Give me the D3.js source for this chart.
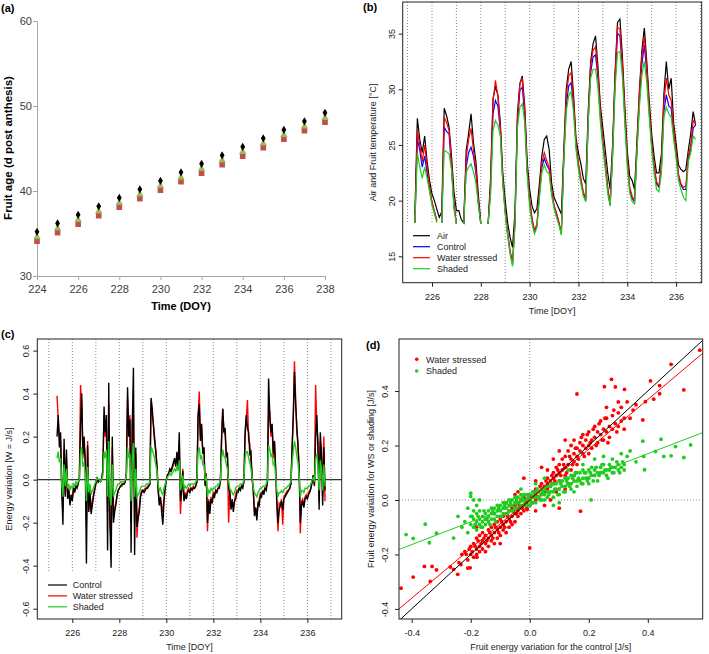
<!DOCTYPE html>
<html>
<head>
<meta charset="utf-8">
<script src="https://d3js.org/d3.v7.min.js"></script>
<style>
body { margin: 0; background: #fff; }
svg { display: block; font-family: "Liberation Sans", Arial, sans-serif; }
</style>
</head>
<body>
<div id="chart"></div>
<script>
//----- (a) fruit age -----
var ageDays = [224, 225, 226, 227, 228, 229, 230, 231, 232, 233, 234, 235, 236, 237, 238];
var ageBlack = [35.2, 36.2, 37.2, 38.2, 39.2, 40.2, 41.2, 42.2, 43.2, 44.2, 45.2, 46.2, 47.2, 48.2, 49.2];
var ageGreen = [34.6, 35.6, 36.6, 37.6, 38.6, 39.6, 40.6, 41.6, 42.6, 43.6, 44.6, 45.6, 46.6, 47.6, 48.6];
var ageRed = [34.1, 35.1, 36.1, 37.1, 38.1, 39.1, 40.1, 41.1, 42.1, 43.1, 44.1, 45.1, 46.1, 47.1, 48.1];
var ageXTicks = [224, 226, 228, 230, 232, 234, 236, 238];
var ageYTicks = [30, 40, 50, 60];

//----- (b) temperatures, sampled every 0.1 d from 225.3 -----
var tempStart = 225.3, tempStep = 0.1;
var tempAir = [
  18.8, 27.4, 25.5, 24.3, 25.8, 23.5, 21.8, 20.6, 20.0, 19.2,
  18.5, 19.0, 28.3, 27.6, 26.6, 24.0, 20.8, 19.1, 19.1, 18.3,
  18.0, 24.5, 26.0, 27.8, 25.2, 23.5, 20.5, 18.0, null, null,
  17.9, 22.0, 29.2, 30.2, 29.5, 27.0, 22.5, 20.0, 18.0, 16.7,
  15.8, 19.0, 27.8, 30.5, 31.2, 28.5, 23.5, 21.0, 19.5, 18.9,
  19.3, 21.5, 24.0, 25.5, 25.8, 24.6, 21.6, 20.3, 19.8, 19.3,
  18.8, 24.5, 30.0, 31.8, 32.5, 29.5, 25.6, 24.3, 23.3, 22.0,
  21.5, 28.0, 32.5, 34.1, 34.8, 32.0, 28.5, 26.5, 24.5, 22.5,
  21.0, 25.0, 31.5, 36.0, 36.3, 33.0, 28.5, 24.5, 22.2, 21.8,
  21.0, 25.5, 30.0, 33.5, 35.5, 32.5, 29.0, 26.0, 24.0, 22.5,
  22.5, 24.2, 29.5, 32.5, 30.0, 31.0, 27.0, 25.2, 23.2, 22.8,
  22.6, 22.8, 24.5, 26.0, 28.0, 26.8];
var tempControl = [
  18.0, 25.6, 24.5, 23.0, 24.0, 22.5, 21.0, 19.8, 19.0, 18.2,
  null, 18.0, 26.6, 26.2, 26.0, 23.0, 19.6, 17.9, null, null,
  17.9, 23.0, 24.3, 24.8, 24.0, 22.5, 19.8, 17.9, null, null,
  17.9, 21.0, 27.8, 29.0, 28.5, 26.3, 21.8, 19.0, 17.0, 15.4,
  14.3, 18.0, 27.0, 29.9, 30.2, 27.6, 22.7, 20.0, 18.3, 17.2,
  17.8, 20.5, 23.0, 23.8, 23.2, 22.8, 20.8, 19.5, 18.8, 18.0,
  17.0, 23.8, 28.5, 30.3, 30.6, 28.6, 25.0, 23.2, 21.8, 20.6,
  20.0, 27.2, 31.5, 32.9, 33.1, 31.0, 27.5, 25.2, 23.2, 21.0,
  19.6, 24.2, 30.6, 35.0, 34.8, 32.0, 27.5, 23.6, 21.0, 20.2,
  19.9, 24.6, 29.0, 32.2, 34.0, 31.5, 28.0, 25.0, 23.0, 21.5,
  21.2, 23.0, 28.0, 29.5, 28.5, 28.3, 26.0, 24.2, 22.2, 21.4,
  21.0, 21.0, 23.8, 24.5, 26.5, 26.8];
var tempStressed = [
  18.0, 26.3, 25.0, 23.5, 25.0, 23.0, 21.2, 19.9, 19.0, 18.2,
  null, 18.0, 27.5, 27.0, 26.3, 23.3, 19.8, 17.9, null, null,
  17.9, 23.8, 25.5, 26.5, 24.5, 22.8, 19.9, 17.9, null, null,
  17.9, 21.5, 28.8, 30.8, 29.4, 26.6, 21.9, 19.1, 17.1, 15.5,
  14.4, 18.1, 27.2, 30.5, 31.0, 28.0, 22.8, 20.1, 18.4, 17.3,
  17.9, 20.8, 23.4, 24.3, 23.6, 23.0, 20.9, 19.6, 18.9, 18.1,
  17.1, 24.0, 29.4, 31.2, 31.5, 29.0, 25.2, 23.4, 22.0, 20.8,
  20.1, 27.5, 32.2, 33.5, 33.8, 31.4, 27.8, 25.4, 23.4, 21.2,
  19.7, 24.5, 31.0, 35.6, 35.4, 32.3, 27.8, 23.8, 21.2, 20.4,
  20.0, 25.0, 29.8, 33.0, 34.8, 32.0, 28.3, 25.2, 23.2, 21.7,
  21.3, 23.3, 28.8, 31.0, 29.5, 29.0, 26.4, 24.4, 22.4, 21.5,
  21.2, 21.3, 24.0, 25.0, 27.2, 26.9];
var tempShaded = [
  18.0, 24.3, 23.0, 22.0, 23.0, 22.0, 20.8, 19.6, 18.8, 18.0,
  null, 18.0, 24.5, 24.4, 24.2, 22.8, 19.2, 17.9, null, null,
  17.9, 22.5, 23.0, 23.3, 22.6, 21.6, 19.6, 17.9, null, null,
  17.9, 20.5, 26.3, 27.2, 26.8, 25.8, 21.5, 18.8, 16.8, 15.2,
  14.1, 17.8, 26.5, 28.4, 28.7, 27.0, 22.3, 19.4, 17.9, 17.0,
  17.6, 20.2, 22.5, 23.2, 22.6, 22.4, 20.5, 19.3, 18.5, 17.8,
  16.9, 23.5, 28.0, 29.4, 29.8, 27.9, 24.6, 22.8, 21.5, 20.4,
  19.9, 27.0, 31.0, 31.8, 31.8, 30.2, 27.0, 24.8, 22.8, 20.6,
  19.5, 24.0, 30.0, 33.3, 33.4, 31.2, 27.0, 23.0, 20.7, 19.9,
  19.7, 24.5, 28.5, 31.3, 32.5, 30.6, 27.5, 24.6, 22.5, 21.0,
  20.8, 22.5, 27.5, 28.4, 27.8, 27.5, 25.5, 23.8, 21.8, 21.0,
  20.3, 20.0, 23.5, 24.3, 25.8, 25.5];
var tempLegend = ["Air", "Control", "Water stressed", "Shaded"];

//----- (c) energy variation, sampled every 0.05 d from 225.35 -----
var energyStart = 225.35, energyStep = 0.05;
var energyControl = [
  0.20, 0.30, 0.15, 0.22, -0.05, -0.21, 0.19, -0.08, 0.14, -0.09, -0.05, -0.12, -0.07, -0.10, -0.04, -0.06, -0.03, -0.04, -0.02, 0.01,
  0.25, 0.40, 0.12, 0.20, 0.08, -0.39, 0.16, -0.15, -0.05, -0.16, -0.12, -0.08, -0.05, -0.02, 0.01, -0.01, 0.00, -0.01, 0.00, 0.05,
  0.34, 0.22, 0.30, -0.33, 0.45, -0.21, -0.41, 0.20, -0.20, -0.15, -0.12, -0.08, -0.05, -0.04, -0.03, -0.03, -0.02, -0.02, -0.01, 0.03,
  0.43, 0.20, 0.28, -0.34, 0.25, 0.52, -0.35, 0.15, -0.22, -0.18, -0.15, -0.08, -0.06, -0.05, -0.06, -0.05, -0.04, -0.04, -0.03, -0.02,
  0.38, 0.33, 0.25, 0.18, 0.13, 0.06, -0.05, -0.12, -0.08, -0.15, -0.21, -0.10, -0.04, 0.00, 0.02, 0.03, 0.05, 0.04, 0.06, 0.08,
  0.10, 0.06, 0.13, 0.05, 0.22, -0.10, -0.06, 0.04, -0.10, -0.07, -0.09, -0.06, -0.05, -0.06, -0.04, -0.05, -0.04, -0.04, -0.03, -0.01,
  0.30, 0.35, 0.18, 0.26, 0.12, 0.15, -0.03, 0.02, -0.20, -0.10, -0.16, -0.09, -0.11, -0.07, -0.08, -0.05, -0.06, -0.04, -0.04, -0.01,
  0.20, 0.33, 0.22, 0.24, 0.11, 0.12, -0.04, -0.06, -0.14, -0.09, -0.15, -0.10, -0.09, -0.06, -0.06, -0.04, -0.05, -0.03, -0.04, -0.01,
  0.22, 0.30, 0.24, 0.22, 0.12, 0.13, 0.00, -0.05, -0.17, -0.13, -0.19, -0.11, -0.12, -0.07, -0.08, -0.05, -0.07, -0.04, -0.05, -0.01,
  0.47, 0.30, 0.22, 0.26, 0.12, 0.18, 0.05, -0.10, -0.20, -0.14, -0.12, -0.10, -0.14, -0.09, -0.08, -0.07, -0.06, -0.05, -0.04, -0.02,
  0.15, 0.30, 0.50, 0.35, 0.25, 0.15, 0.05, -0.20, -0.12, -0.10, -0.13, -0.09, -0.08, -0.09, -0.07, -0.06, -0.04, -0.01, 0.02, -0.03,
  0.20, 0.30, 0.15, -0.14, 0.22, 0.10, -0.12, 0.15, -0.05];
var energyStressed = [
  0.39, 0.28, 0.20, 0.18, -0.03, -0.15, 0.14, -0.07, 0.10, -0.08, -0.04, -0.10, -0.08, -0.08, -0.04, -0.05, -0.03, -0.03, -0.02, 0.01,
  0.44, 0.35, 0.10, 0.17, 0.10, -0.20, 0.18, -0.14, -0.06, -0.15, -0.10, -0.07, -0.04, -0.02, 0.01, -0.01, 0.00, -0.01, 0.00, 0.04,
  0.30, 0.20, 0.25, -0.15, 0.35, -0.18, -0.30, 0.15, -0.17, -0.13, -0.11, -0.07, -0.05, -0.04, -0.03, -0.02, -0.02, -0.02, -0.01, 0.03,
  0.38, 0.22, 0.30, -0.20, 0.28, 0.30, -0.20, 0.12, -0.27, -0.16, -0.13, -0.07, -0.05, -0.05, -0.05, -0.04, -0.04, -0.03, -0.03, -0.02,
  0.36, 0.30, 0.26, 0.20, 0.14, 0.07, -0.04, -0.10, -0.09, -0.12, -0.15, -0.09, -0.04, 0.00, 0.02, 0.03, 0.04, 0.04, 0.05, 0.07,
  0.09, 0.07, 0.11, 0.06, 0.18, -0.16, -0.05, 0.05, -0.09, -0.06, -0.08, -0.05, -0.04, -0.05, -0.04, -0.04, -0.03, -0.04, -0.03, -0.01,
  0.28, 0.41, 0.20, 0.24, 0.13, 0.14, -0.02, 0.03, -0.24, -0.09, -0.14, -0.08, -0.10, -0.06, -0.07, -0.05, -0.05, -0.04, -0.03, -0.01,
  0.18, 0.33, 0.22, 0.21, 0.11, 0.10, -0.20, -0.05, -0.12, -0.10, -0.13, -0.10, -0.07, -0.05, -0.05, -0.04, -0.04, -0.03, -0.03, -0.01,
  0.20, 0.28, 0.37, 0.18, 0.17, 0.08, 0.03, -0.06, -0.15, -0.13, -0.16, -0.12, -0.09, -0.07, -0.06, -0.06, -0.05, -0.04, -0.04, -0.01,
  0.30, 0.32, 0.20, 0.25, 0.10, 0.17, 0.05, -0.12, -0.24, -0.11, -0.12, -0.09, -0.21, -0.08, -0.07, -0.06, -0.05, -0.05, -0.04, -0.02,
  0.14, 0.28, 0.55, 0.38, 0.22, 0.18, 0.04, -0.25, -0.10, -0.09, -0.12, -0.08, -0.07, -0.08, -0.06, -0.05, -0.04, -0.01, 0.02, -0.02,
  0.44, 0.25, 0.18, -0.10, 0.18, 0.15, -0.08, 0.20, -0.10];
var energyShaded = [
  0.10, 0.13, 0.08, 0.10, -0.02, -0.08, 0.07, -0.03, 0.05, -0.04, -0.02, -0.05, -0.03, -0.04, -0.02, -0.03, -0.01, -0.02, -0.01, 0.00,
  0.12, 0.15, 0.06, 0.08, 0.03, -0.10, 0.06, -0.06, -0.02, -0.07, -0.05, -0.04, -0.02, -0.01, 0.01, 0.00, 0.00, -0.01, 0.00, 0.02,
  0.13, 0.10, 0.14, -0.08, 0.18, -0.08, -0.12, 0.07, -0.08, -0.06, -0.05, -0.03, -0.02, -0.02, -0.01, -0.01, -0.01, -0.01, 0.00, 0.02,
  0.15, 0.10, 0.12, -0.10, 0.10, 0.17, -0.08, 0.05, -0.08, -0.07, -0.06, -0.04, -0.03, -0.03, -0.03, -0.03, -0.02, -0.02, -0.02, -0.01,
  0.15, 0.14, 0.12, 0.10, 0.07, 0.04, -0.02, -0.05, -0.04, -0.06, -0.07, -0.04, -0.02, 0.00, 0.01, 0.02, 0.03, 0.02, 0.03, 0.04,
  0.05, 0.04, 0.06, 0.04, 0.09, -0.05, -0.03, 0.02, -0.04, -0.03, -0.04, -0.03, -0.02, -0.03, -0.02, -0.02, -0.02, -0.02, -0.01, 0.00,
  0.13, 0.15, 0.10, 0.11, 0.07, 0.07, 0.00, 0.01, -0.08, -0.05, -0.06, -0.04, -0.05, -0.04, -0.04, -0.03, -0.03, -0.02, -0.02, 0.00,
  0.10, 0.14, 0.11, 0.10, 0.07, 0.05, -0.01, -0.04, -0.05, -0.06, -0.07, -0.06, -0.04, -0.03, -0.03, -0.03, -0.02, -0.02, -0.02, 0.00,
  0.10, 0.13, 0.13, 0.10, 0.08, 0.05, 0.01, -0.04, -0.06, -0.07, -0.08, -0.06, -0.05, -0.04, -0.04, -0.03, -0.03, -0.03, -0.02, 0.00,
  0.16, 0.14, 0.11, 0.12, 0.07, 0.08, 0.02, -0.05, -0.08, -0.06, -0.06, -0.05, -0.06, -0.05, -0.04, -0.04, -0.03, -0.03, -0.02, -0.01,
  0.08, 0.13, 0.18, 0.15, 0.11, 0.08, 0.02, -0.08, -0.05, -0.05, -0.06, -0.04, -0.04, -0.04, -0.03, -0.03, -0.02, 0.00, 0.01, -0.01,
  0.10, 0.12, 0.07, -0.05, 0.09, 0.05, -0.05, 0.07, -0.03];
var energyLegend = ["Control", "Water stressed", "Shaded"];
var dayTicks = [226, 228, 230, 232, 234, 236];
var dayLines = [225, 226, 227, 228, 229, 230, 231, 232, 233, 234, 235, 236, 237];

//----- (d) treatment vs control, [control, treatment] -----
var wsScatter = [
  [-0.436,-0.324],[-0.395,-0.283],[-0.357,-0.244],[-0.331,-0.244],[-0.337,-0.299],[-0.316,-0.257],[-0.269,-0.246],[-0.244,-0.273],
  [-0.258,-0.255],[-0.233,-0.237],[-0.202,-0.249],[-0.179,-0.21],[-0.24,-0.23],[-0.23,-0.2],[-0.21,-0.25],
  [-0.22,-0.19],[-0.21,-0.22],[-0.2,-0.17],[-0.2,-0.2],[-0.19,-0.21],[-0.19,-0.16],[-0.18,-0.18],[-0.18,-0.14],[-0.18,-0.2],
  [-0.17,-0.17],[-0.17,-0.13],[-0.17,-0.19],[-0.16,-0.15],[-0.16,-0.18],[-0.16,-0.12],[-0.15,-0.16],[-0.15,-0.13],[-0.15,-0.19],
  [-0.14,-0.14],[-0.14,-0.11],[-0.14,-0.17],[-0.13,-0.13],[-0.13,-0.15],[-0.13,-0.1],[-0.12,-0.12],[-0.12,-0.16],[-0.12,-0.09],
  [-0.11,-0.11],[-0.11,-0.14],[-0.11,-0.08],[-0.1,-0.1],[-0.1,-0.13],[-0.1,-0.07],[-0.1,-0.16],[-0.09,-0.09],[-0.09,-0.11],
  [-0.09,-0.06],[-0.08,-0.08],[-0.08,-0.12],[-0.08,-0.05],[-0.07,-0.07],[-0.07,-0.1],[-0.07,-0.04],[-0.06,-0.06],[-0.06,-0.09],
  [-0.06,-0.03],[-0.05,-0.05],[-0.05,-0.08],[-0.05,-0.02],[-0.04,-0.04],[-0.04,-0.06],[-0.04,-0.01],[-0.03,-0.03],[-0.03,-0.05],
  [-0.03,0.0],[-0.02,-0.02],[-0.02,-0.04],[-0.02,0.01],[-0.01,-0.01],[-0.01,-0.03],[0.0,0.0],[0.0,-0.02],[0.0,0.02],[0.01,0.01],
  [0.01,-0.01],[0.02,0.02],[0.02,0.0],[0.02,0.04],[0.03,0.03],[0.03,0.01],[0.04,0.04],[0.04,0.02],[0.04,0.06],[0.05,0.05],
  [0.05,0.03],[0.06,0.06],[0.06,0.04],[0.06,0.08],[0.07,0.07],[0.07,0.05],[0.08,0.08],[0.08,0.1],[0.08,0.06],[0.09,0.09],
  [0.09,0.12],[0.1,0.1],[0.1,0.13],[0.1,0.07],[0.11,0.11],[0.11,0.15],[0.12,0.12],[0.12,0.16],[0.12,0.09],[0.13,0.13],
  [0.13,0.18],[0.14,0.15],[0.14,0.11],[0.14,0.2],[0.15,0.14],[0.15,0.17],[0.15,0.22],[0.16,0.16],[0.16,0.19],[0.16,0.13],
  [0.17,0.18],[0.17,0.21],[0.18,0.17],[0.18,0.2],[0.18,0.24],[0.19,0.19],[0.19,0.22],[0.2,0.2],[0.2,0.17],[0.2,0.25],
  [0.21,0.22],[0.21,0.19],[0.22,0.23],[0.22,0.27],[0.23,0.21],[0.23,0.25],[0.24,0.24],[0.24,0.29],[0.25,0.22],[0.25,0.26],
  [0.26,0.25],[0.26,0.3],[0.27,0.27],[0.27,0.23],[0.28,0.26],[0.28,0.31],[0.29,0.28],[0.3,0.27],[0.3,0.32],[0.31,0.29],[0.32,0.3],
  [-0.215,-0.2],[-0.205,-0.18],[-0.195,-0.19],[-0.185,-0.17],[-0.175,-0.15],[-0.165,-0.16],[-0.155,-0.14],[-0.145,-0.15],
  [-0.135,-0.12],[-0.125,-0.14],[-0.115,-0.1],[-0.105,-0.12],[-0.095,-0.08],[-0.085,-0.1],[-0.075,-0.06],[-0.065,-0.08],
  [-0.055,-0.04],[-0.045,-0.05],[-0.035,-0.02],[-0.025,-0.03],[-0.015,0.0],[0.005,0.01],[0.015,0.03],[0.025,0.01],[0.035,0.05],
  [0.045,0.03],[0.055,0.07],[0.065,0.05],[0.075,0.09],[0.085,0.07],[0.095,0.11],[0.105,0.09],[0.115,0.13],[0.125,0.1],
  [0.135,0.16],[0.145,0.13],[0.155,0.19],[0.165,0.15],[0.175,0.23],[0.185,0.16],[0.195,0.24],[0.205,0.21],[0.215,0.26],
  [0.225,0.2],[0.235,0.28],[0.245,0.22],[0.255,0.3],[0.265,0.21],[0.285,0.33],[0.295,0.25],[0.31,0.34],[0.32,0.26],[0.3,0.36],[0.26,0.34],
  [-0.12,-0.05],[-0.08,-0.01],[-0.05,0.02],[-0.02,0.08],[0.02,-0.04],[0.05,-0.02],[0.07,0.0],[0.09,0.03],[0.1,-0.03],[0.12,0.04],
  [0.13,0.06],[0.15,0.09],[0.172,-0.041],[0.0,-0.176],[0.04,0.12],[0.08,0.15],[0.1,0.18],[0.12,0.22],[0.06,0.11],[-0.15,-0.07],
  [-0.18,-0.1],[0.02,0.07],[-0.04,0.03],[-0.009,-0.035],
  [0.16,0.389],[0.277,0.443],[0.253,0.416],[0.29,0.415],[0.321,0.406],[0.35,0.33],[0.383,0.294],[0.392,0.361],[0.409,0.437],
  [0.44,0.39],[0.479,0.498],[0.522,0.404],[0.576,0.55],[0.44,0.42],[0.42,0.37],[0.36,0.35],[0.34,0.3],[0.33,0.36]];
var shadedScatter = [
  [-0.419,-0.127],[-0.395,-0.141],[-0.354,-0.089],[-0.34,-0.157],[-0.316,-0.122],[-0.258,-0.14],[-0.243,-0.06],[-0.23,-0.1],
  [-0.22,-0.08],[-0.21,-0.12],[-0.2,0.025],[-0.2,0.013],[-0.19,0.0],[-0.21,-0.03],
  [-0.2,-0.09],[-0.2,-0.06],[-0.19,-0.1],[-0.19,-0.07],[-0.19,-0.04],[-0.18,-0.08],[-0.18,-0.05],[-0.18,-0.11],[-0.17,-0.07],
  [-0.17,-0.09],[-0.17,-0.04],[-0.16,-0.06],[-0.16,-0.08],[-0.16,-0.1],[-0.15,-0.05],[-0.15,-0.07],[-0.15,-0.09],[-0.14,-0.06],
  [-0.14,-0.04],[-0.14,-0.08],[-0.13,-0.05],[-0.13,-0.07],[-0.13,-0.03],[-0.12,-0.05],[-0.12,-0.07],[-0.12,-0.03],[-0.11,-0.04],
  [-0.11,-0.06],[-0.11,-0.02],[-0.1,-0.04],[-0.1,-0.06],[-0.1,-0.02],[-0.09,-0.03],[-0.09,-0.05],[-0.09,-0.01],[-0.08,-0.03],
  [-0.08,-0.05],[-0.08,-0.01],[-0.07,-0.02],[-0.07,-0.04],[-0.07,0.0],[-0.06,-0.02],[-0.06,-0.04],[-0.06,0.0],[-0.05,-0.01],
  [-0.05,-0.03],[-0.05,0.01],[-0.04,-0.01],[-0.04,-0.03],[-0.04,0.01],[-0.03,0.0],[-0.03,-0.02],[-0.03,0.02],[-0.02,0.0],
  [-0.02,-0.02],[-0.02,0.02],[-0.01,0.0],[-0.01,0.02],[-0.01,-0.02],[0.0,0.0],[0.0,0.02],[0.0,-0.02],[0.01,0.01],[0.01,0.03],
  [0.01,-0.01],[0.02,0.01],[0.02,0.03],[0.02,-0.01],[0.03,0.01],[0.03,0.03],[0.04,0.02],[0.04,0.0],[0.04,0.04],[0.05,0.02],
  [0.05,0.04],[0.05,0.0],[0.06,0.03],[0.06,0.05],[0.06,0.01],[0.07,0.03],[0.07,0.05],[0.08,0.03],[0.08,0.06],[0.08,0.01],
  [0.09,0.04],[0.09,0.06],[0.1,0.04],[0.1,0.07],[0.1,0.02],[0.11,0.05],[0.11,0.07],[0.12,0.05],[0.12,0.08],[0.12,0.03],
  [0.13,0.06],[0.13,0.08],[0.14,0.06],[0.14,0.09],[0.14,0.04],[0.15,0.07],[0.15,0.09],[0.16,0.07],[0.16,0.1],[0.16,0.05],
  [0.17,0.07],[0.17,0.1],[0.18,0.08],[0.18,0.11],[0.18,0.06],[0.19,0.08],[0.19,0.1],[0.2,0.08],[0.2,0.11],[0.2,0.06],
  [0.21,0.09],[0.21,0.12],[0.22,0.09],[0.22,0.11],[0.23,0.1],[0.23,0.07],[0.24,0.1],[0.24,0.12],[0.25,0.1],[0.25,0.13],
  [0.26,0.11],[0.26,0.09],[0.27,0.11],[0.27,0.13],[0.28,0.12],[0.28,0.1],[0.29,0.12],[0.3,0.11],[0.3,0.13],[0.31,0.12],
  [0.32,0.13],[0.32,0.11],
  [-0.195,-0.06],[-0.185,-0.09],[-0.175,-0.06],[-0.165,-0.1],[-0.155,-0.04],[-0.145,-0.07],[-0.135,-0.09],[-0.125,-0.04],
  [-0.115,-0.08],[-0.105,-0.03],[-0.095,-0.06],[-0.085,-0.02],[-0.075,-0.05],[-0.065,-0.01],[-0.055,-0.04],[-0.045,0.0],
  [-0.035,-0.03],[-0.025,0.01],[-0.015,-0.01],[-0.005,0.01],[0.005,-0.01],[0.015,0.02],[0.025,0.04],[0.035,0.0],[0.045,0.03],
  [0.055,0.05],[0.065,0.02],[0.075,0.06],[0.085,0.04],[0.095,0.02],[0.105,0.06],[0.115,0.03],[0.125,0.07],[0.135,0.05],
  [0.145,0.08],[0.155,0.1],[0.165,0.08],[0.175,0.06],[0.185,0.1],[0.195,0.07],[0.205,0.1],[0.215,0.07],[0.225,0.12],
  [0.235,0.09],[0.245,0.13],[0.255,0.11],[0.265,0.08],[0.275,0.12],[0.285,0.1],[0.295,0.14],[0.305,0.1],[0.315,0.14],
  [-0.18,-0.02],[-0.17,0.0],
  [0.208,0.0],[0.383,0.216],[0.386,0.16],[0.389,0.111],[0.426,0.178],[0.445,0.223],[0.454,0.16],[0.494,0.196],[0.479,0.162],
  [0.522,0.156],[0.545,0.202],[0.34,0.18],[0.31,0.17],[0.36,0.14],[0.33,0.16],[0.05,0.08],[0.1,-0.01],[0.15,0.03],[0.25,0.16],
  [0.22,0.15],[0.28,0.15],[-0.03,0.04],[0.02,0.06],[0.13,0.11],[0.08,-0.02],[0.18,0.13]];
var wsFit = [0.004, 0.912];      // intercept, slope
var shadedFit = [0.003, 0.417];
var scatterLegend = ["Water stressed", "Shaded"];
var scatterTicks = [-0.4, -0.2, 0.0, 0.2, 0.4];

//----- set up -----
var red = "#ff0000", green = "#1fcc1f", blue = "#0000ff", ink = "#222";
var svg = d3.select("#chart").append("svg")
    .attr("width", 709)
    .attr("height", 654);

drawChartA();
drawChartB();
drawChartC();
drawChartD();

//panel label like "(a)"
function panelLabel(txt, x, y) {
    svg.append("text")
        .attr("x", x).attr("y", y)
        .style("font-size", "11px")
        .style("font-weight", "bold")
        .text(txt);
}

//R style box, axes with rotated y labels and axis titles
function drawFrame(g, x, y, xTicks, yTicks, fmt, yTickGap, xTitle, yTitle, yTitleX) {
    var xr = x.range(), yr = y.range();
    var xa = g.append("g")
        .attr("transform", `translate(0, ${yr[0]})`)
        .call(d3.axisBottom(x).tickValues(xTicks).tickSize(4).tickPadding(7).tickFormat(fmt.x));
    var ya = g.append("g")
        .attr("transform", `translate(${xr[0]}, 0)`)
        .call(d3.axisLeft(y).tickValues(yTicks).tickSize(4).tickFormat(fmt.y));
    [xa, ya].forEach(function (a) {
        a.select(".domain").remove();
        a.selectAll("line").attr("stroke", ink);
        a.selectAll("text").attr("fill", ink).style("font-size", "9px").style("font-family", "Liberation Sans, Arial, sans-serif");
    });
    ya.selectAll("text")
        .attr("transform", "rotate(-90)")
        .attr("x", 0)
        .attr("y", -yTickGap)
        .attr("dy", 0)
        .style("text-anchor", "middle");

    g.append("rect")
        .attr("x", xr[0]).attr("y", yr[1])
        .attr("width", xr[1] - xr[0]).attr("height", yr[0] - yr[1])
        .attr("fill", "none").attr("stroke", ink);

    g.append("text")
        .attr("x", (xr[0] + xr[1]) / 2).attr("y", yr[0] + 31)
        .attr("text-anchor", "middle")
        .attr("fill", ink).style("font-size", "9px")
        .text(xTitle);
    var cy = (yr[0] + yr[1]) / 2;
    g.append("text")
        .attr("transform", `translate(${yTitleX}, ${cy}) rotate(-90)`)
        .attr("text-anchor", "middle")
        .attr("fill", ink).style("font-size", "9px")
        .text(yTitle);
}

function clipTo(id, x, y) {
    svg.append("clipPath").attr("id", id)
        .append("rect")
        .attr("x", x.range()[0]).attr("y", y.range()[1])
        .attr("width", x.range()[1] - x.range()[0])
        .attr("height", y.range()[0] - y.range()[1]);
}

//----- (a) -----
function drawChartA() {
    var x = d3.scaleLinear().domain([224, 238]).range([37, 325]);
    var y = d3.scaleLinear().domain([30, 60]).range([276, 21]);
    var g = svg.append("g");

    var xa = g.append("g").attr("transform", "translate(0, 276)")
        .call(d3.axisBottom(x).tickValues(ageXTicks).tickSize(4).tickSizeOuter(0).tickPadding(5));
    var ya = g.append("g").attr("transform", "translate(37, 0)")
        .call(d3.axisLeft(y).tickValues(ageYTicks).tickSize(4).tickSizeOuter(0).tickPadding(1));
    [xa, ya].forEach(function (a) {
        a.selectAll("path, line").attr("stroke", "#a6a6a6");
        a.selectAll("text").attr("fill", "#404040").style("font-size", "11px")
            .style("font-family", "Liberation Sans, Arial, sans-serif");
    });

    g.append("text")
        .attr("x", 181).attr("y", 310)
        .attr("text-anchor", "middle")
        .style("font-size", "11px").style("font-weight", "bold")
        .text("Time (DOY)");
    g.append("text")
        .attr("transform", "translate(12, 148) rotate(-90)")
        .attr("text-anchor", "middle")
        .style("font-size", "11.5px").style("font-weight", "bold")
        .text("Fruit age (d post anthesis)");

    var series = [
        { v: ageRed, sym: d3.symbolSquare, size: 32, color: "#c0504d" },
        { v: ageGreen, sym: d3.symbolTriangle, size: 24, color: "#9bbb59" },
        { v: ageBlack, sym: d3.symbolDiamond, size: 20, color: "#000" }
    ];
    series.forEach(function (s) {
        g.selectAll("mark")
            .data(ageDays)
            .enter()
            .append("path")
            .attr("d", d3.symbol().type(s.sym).size(s.size))
            .attr("transform", (d, i) => `translate(${x(d)}, ${y(s.v[i])})`)
            .attr("fill", s.color);
    });
    panelLabel("(a)", 1, 12);
}

//----- (b) -----
function drawChartB() {
    var x = d3.scaleLinear().domain([224.8, 237.05]).range([402.7, 701.7]);
    var y = d3.scaleLinear().domain([12.63, 37.84]).range([282.7, 2]);
    var g = svg.append("g");
    clipTo("clipB", x, y);

    //day separators
    g.selectAll("dayline")
        .data(dayLines)
        .enter()
        .append("line")
        .attr("x1", d => x(d)).attr("x2", d => x(d))
        .attr("y1", y.range()[1])
        .attr("y2", d => d < 229 ? y(18.05) : y.range()[0])
        .attr("stroke", "#888").attr("stroke-dasharray", "1,2");

    var line = d3.line()
        .defined(d => d[1] != null)
        .x(d => x(d[0])).y(d => y(d[1]));
    var all = [[tempAir, "#000"], [tempControl, blue], [tempStressed, red], [tempShaded, green]];
    all.forEach(function (s) {
        var pts = s[0].map((v, i) => [+(tempStart + i * tempStep).toFixed(2), v]);
        g.append("path")
            .attr("d", line(pts))
            .attr("clip-path", "url(#clipB)")
            .attr("fill", "none").attr("stroke", s[1]).attr("stroke-width", 1.2);
    });

    drawFrame(g, x, y, dayTicks, [15, 20, 25, 30, 35],
        { x: d3.format("d"), y: d3.format("d") }, 8,
        "Time [DOY]", "Air and Fruit temperature [\u00b0C]", 376);

    //legend
    var colors = ["#000", blue, red, green];
    tempLegend.forEach(function (name, i) {
        var ly = 235.7 + i * 11;
        g.append("line").attr("x1", 413).attr("x2", 430).attr("y1", ly).attr("y2", ly)
            .attr("stroke", colors[i]).attr("stroke-width", 1.2);
        g.append("text").attr("x", 437).attr("y", ly + 3.2)
            .attr("fill", ink).style("font-size", "9px").text(name);
    });
    panelLabel("(b)", 363, 11);
}

//----- (c) -----
function drawChartC() {
    var x = d3.scaleLinear().domain([224.51, 237.46]).range([37.3, 341.7]);
    var y = d3.scaleLinear().domain([-0.648, 0.654]).range([619, 339]);
    var g = svg.append("g");
    clipTo("clipC", x, y);

    g.selectAll("dayline")
        .data(dayLines)
        .enter()
        .append("line")
        .attr("x1", d => x(d)).attr("x2", d => x(d))
        .attr("y1", y.range()[1])
        .attr("y2", d => d < 229 ? y(-0.43) : y.range()[0])
        .attr("stroke", "#888").attr("stroke-dasharray", "1,2");

    g.append("line")
        .attr("x1", x.range()[0]).attr("x2", x.range()[1])
        .attr("y1", y(0)).attr("y2", y(0))
        .attr("stroke", "#333").attr("stroke-width", 1.2);

    var line = d3.line().x(d => x(d[0])).y(d => y(d[1]));
    var all = [[energyStressed, red], [energyControl, "#000"], [energyShaded, green]];
    all.forEach(function (s) {
        var pts = s[0].map((v, i) => [+(energyStart + i * energyStep).toFixed(2), v]);
        g.append("path")
            .attr("d", line(pts))
            .attr("clip-path", "url(#clipC)")
            .attr("fill", "none").attr("stroke", s[1]).attr("stroke-width", 1.4);
    });

    drawFrame(g, x, y, dayTicks, [-0.6, -0.4, -0.2, 0, 0.2, 0.4, 0.6],
        { x: d3.format("d"), y: d => d.toFixed(1) }, 8,
        "Time [DOY]", "Energy variation [W = J/s]", 12);

    var colors = ["#000", red, green];
    energyLegend.forEach(function (name, i) {
        var ly = 585 + i * 10.9;
        g.append("line").attr("x1", 48).attr("x2", 67).attr("y1", ly).attr("y2", ly)
            .attr("stroke", colors[i]).attr("stroke-width", 1.2);
        g.append("text").attr("x", 72.7).attr("y", ly + 3.2)
            .attr("fill", ink).style("font-size", "9px").text(name);
    });
    panelLabel("(c)", 1, 338);
}

//----- (d) -----
function drawChartD() {
    var x = d3.scaleLinear().domain([-0.443, 0.586]).range([399, 702.7]);
    var y = d3.scaleLinear().domain([-0.437, 0.591]).range([619, 339]);
    var g = svg.append("g");
    clipTo("clipD", x, y);

    //zero lines
    g.append("line")
        .attr("x1", x(0)).attr("x2", x(0)).attr("y1", y.range()[1]).attr("y2", y.range()[0])
        .attr("stroke", "#888").attr("stroke-dasharray", "1,2");
    g.append("line")
        .attr("x1", x.range()[0]).attr("x2", x.range()[1]).attr("y1", y(0)).attr("y2", y(0))
        .attr("stroke", "#888").attr("stroke-dasharray", "1,2");

    g.selectAll("wsdot")
        .data(wsScatter)
        .enter()
        .append("circle")
        .attr("cx", d => x(d[0])).attr("cy", d => y(d[1]))
        .attr("r", 1.9).attr("fill", red);
    g.selectAll("shdot")
        .data(shadedScatter)
        .enter()
        .append("circle")
        .attr("cx", d => x(d[0])).attr("cy", d => y(d[1]))
        .attr("r", 1.9).attr("fill", green);

    //1:1 and regression lines
    var d0 = x.domain()[0], d1 = x.domain()[1];
    var fits = [[[0, 1], "#000"], [wsFit, red], [shadedFit, green]];
    fits.forEach(function (f) {
        g.append("line")
            .attr("x1", x(d0)).attr("y1", y(f[0][0] + f[0][1] * d0))
            .attr("x2", x(d1)).attr("y2", y(f[0][0] + f[0][1] * d1))
            .attr("clip-path", "url(#clipD)")
            .attr("stroke", f[1]).attr("stroke-width", 1);
    });

    drawFrame(g, x, y, scatterTicks, scatterTicks,
        { x: d => d.toFixed(1), y: d => d.toFixed(1) }, 11,
        "Fruit energy variation for the control [J/s]",
        "Fruit energy variation for WS or shading [J/s]", 374);

    var colors = [red, green];
    scatterLegend.forEach(function (name, i) {
        var ly = 359.3 + i * 11.7;
        g.append("circle").attr("cx", 416.7).attr("cy", ly).attr("r", 1.8).attr("fill", colors[i]);
        g.append("text").attr("x", 426).attr("y", ly + 3.2)
            .attr("fill", ink).style("font-size", "9px").text(name);
    });
    panelLabel("(d)", 366, 349);
}
</script>
</body>
</html>
